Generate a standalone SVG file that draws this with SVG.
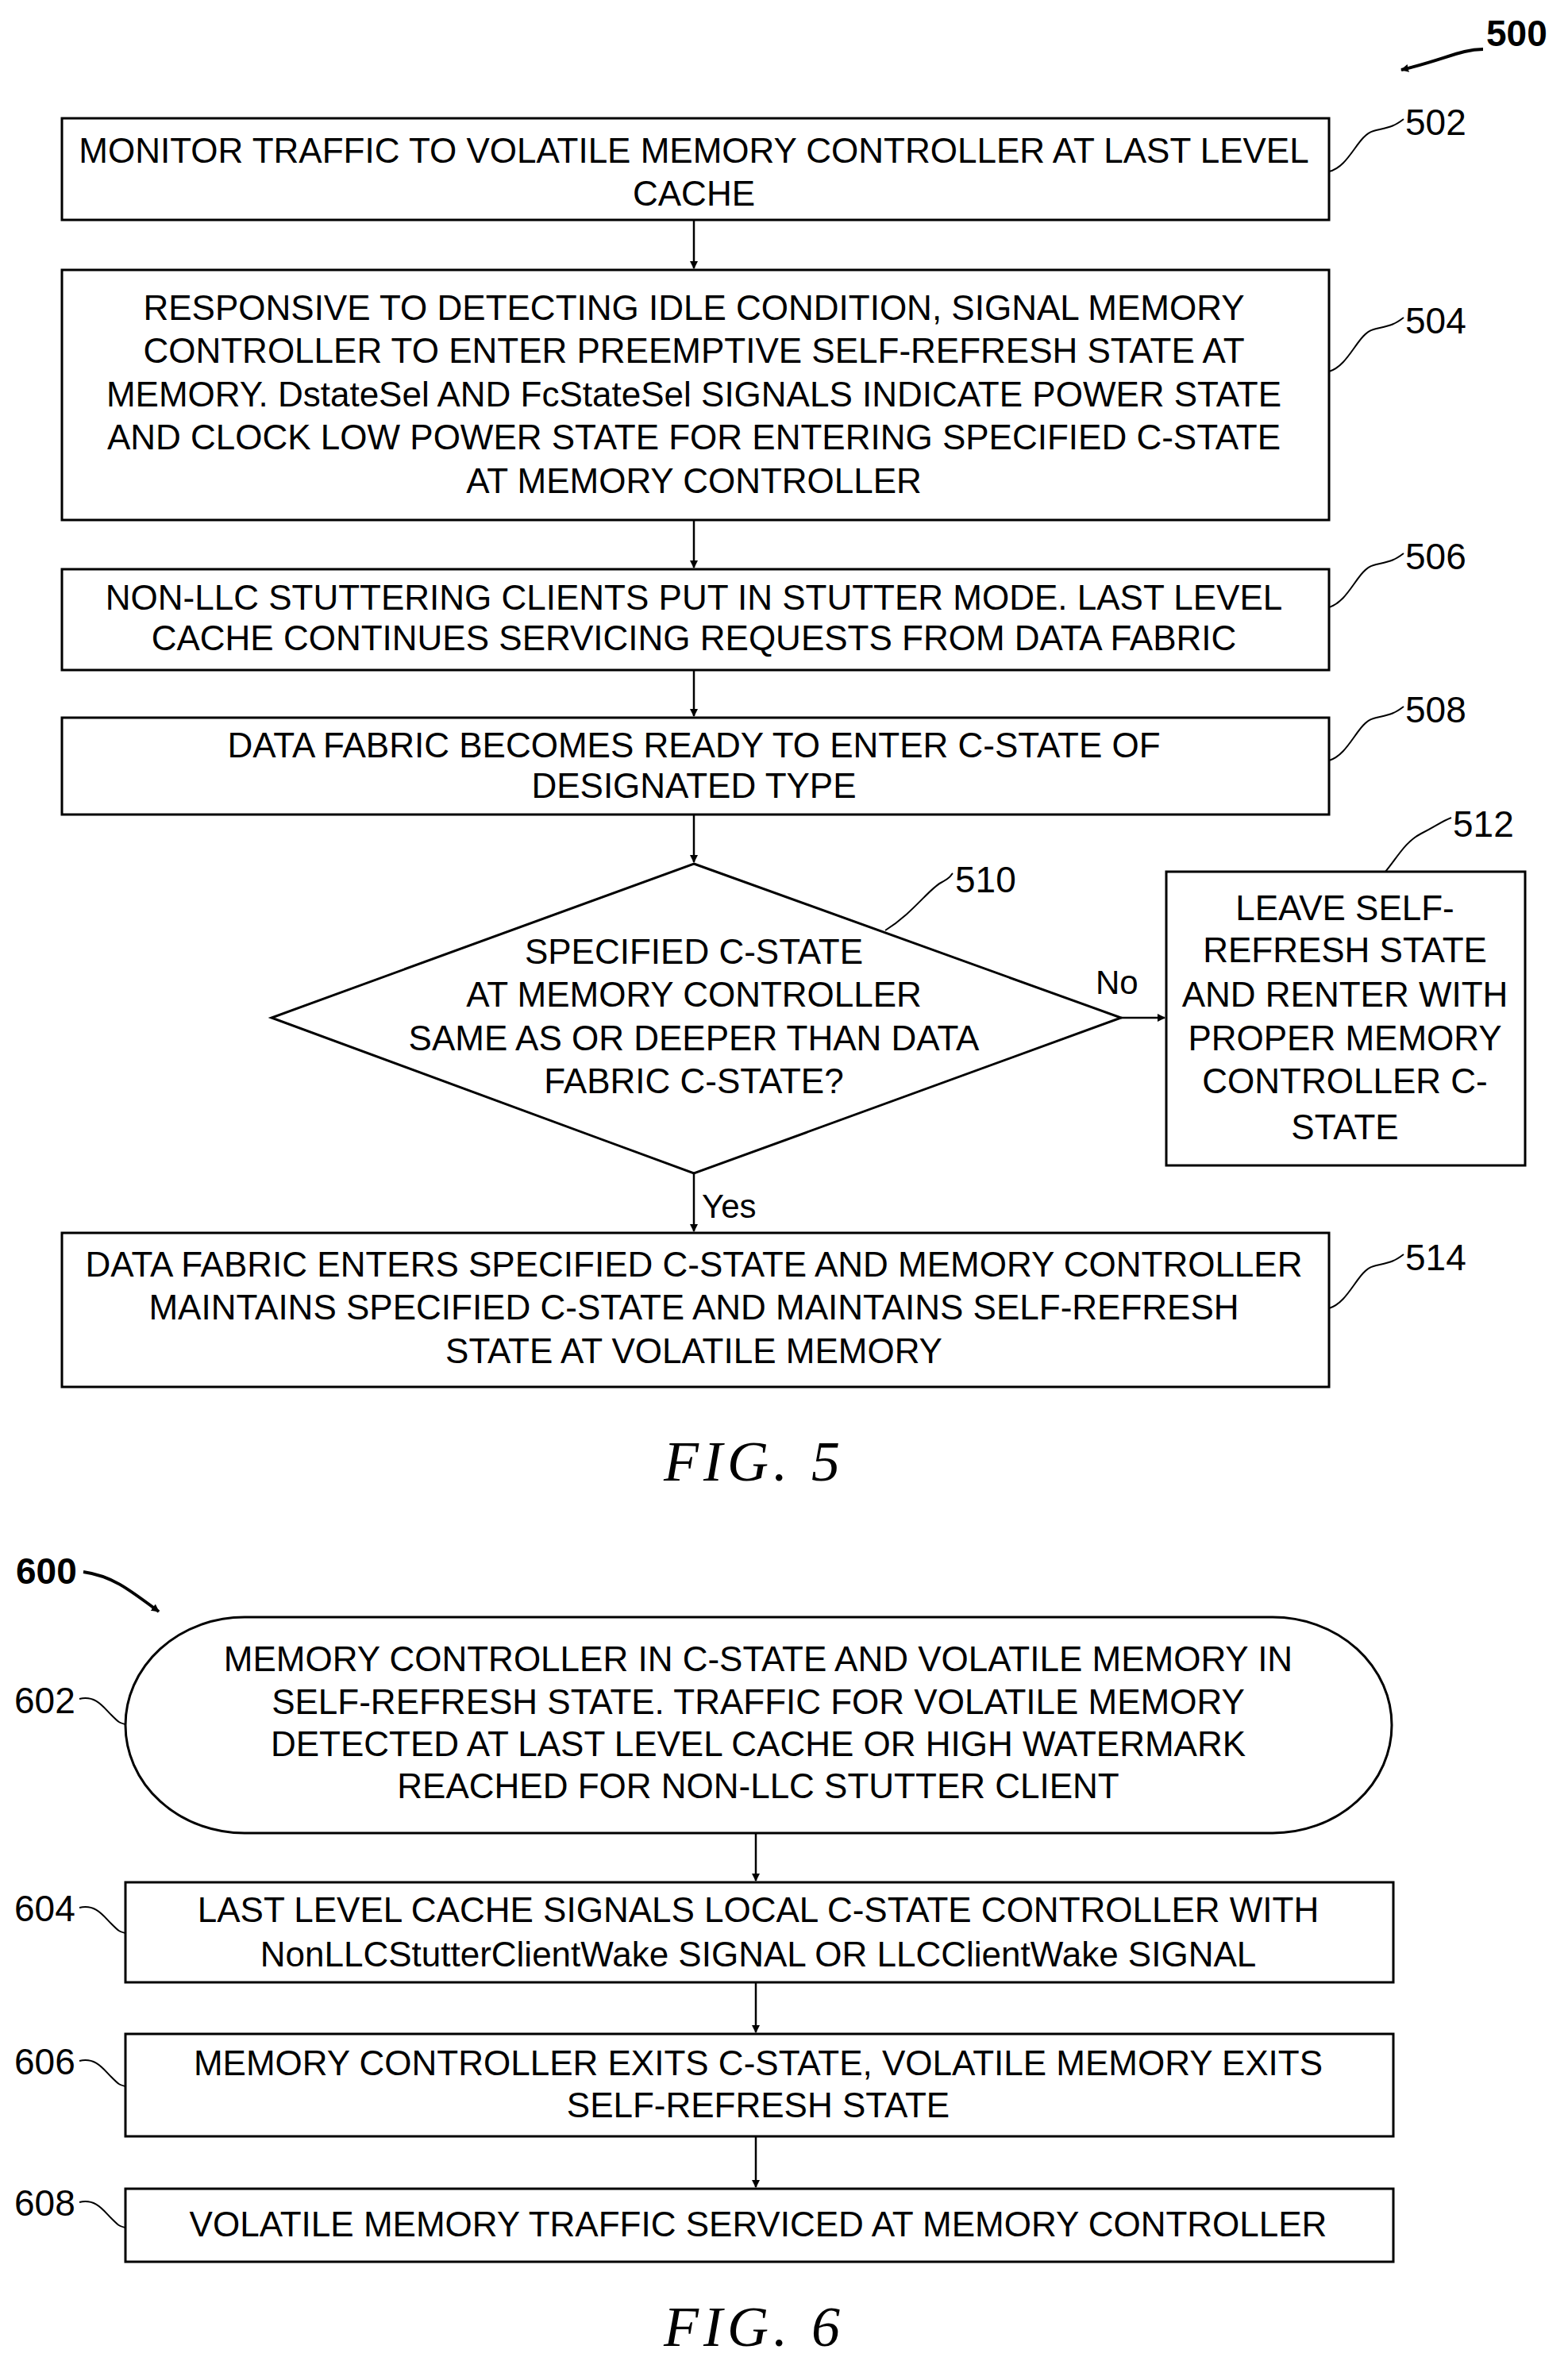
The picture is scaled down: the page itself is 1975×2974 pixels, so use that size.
<svg xmlns="http://www.w3.org/2000/svg" width="1975" height="2974" viewBox="0 0 1975 2974">
<style>
.b{fill:#fff;stroke:#000;stroke-width:3}
.t{font-family:"Liberation Sans",Arial,sans-serif;font-size:44px;text-anchor:middle;fill:#000}
.l{font-family:"Liberation Sans",Arial,sans-serif;font-size:46px;fill:#000}
.ld{fill:none;stroke:#000;stroke-width:2}
.c{fill:none;stroke:#000;stroke-width:2.5;marker-end:url(#a)}
.f{font-family:"Liberation Serif","Times New Roman",serif;font-style:italic;font-size:72px;text-anchor:middle;letter-spacing:6px}
</style>
<defs><marker id="a" markerWidth="10" markerHeight="10" refX="9" refY="5" orient="auto" markerUnits="userSpaceOnUse" viewBox="0 0 10 10"><path d="M0,0 L10,5 L0,10 z" fill="#000"/></marker></defs>
<rect width="1975" height="2974" fill="#fff"/>
<g id="connectors">
<path class="c" d="M874 277 V338"/>
<path class="c" d="M874 655 V715"/>
<path class="c" d="M874 844 V902"/>
<path class="c" d="M874 1026 V1086"/>
<path class="c" d="M1412 1282 H1467"/>
<path class="c" d="M874 1478 V1551"/>
<path class="c" d="M952 2309 V2369"/>
<path class="c" d="M952 2497 V2560"/>
<path class="c" d="M952 2691 V2755"/>
<text class="l" x="1380" y="1252" style="font-size:42px">No</text>
<text class="l" x="884" y="1534" style="font-size:42px">Yes</text>
</g>
<g id="n500"><text class="l" x="1872" y="58" font-weight="bold">500</text><path class="c" d="M1868 62 C1840 62 1820 75 1765 88" style="stroke-width:4"/></g>
<g id="n502"><rect class="b" x="78" y="149" width="1596" height="128"/>
<text class="t" x="874" y="205">MONITOR TRAFFIC TO VOLATILE MEMORY CONTROLLER AT LAST LEVEL</text>
<text class="t" x="874" y="259">CACHE</text>
<path class="ld" d="M1674 216 C1700 210 1710 170 1730 165 S1755 160 1768 150"/><text class="l" x="1770" y="170">502</text></g>
<g id="n504"><rect class="b" x="78" y="340" width="1596" height="315"/>
<text class="t" x="874" y="403">RESPONSIVE TO DETECTING IDLE CONDITION, SIGNAL MEMORY</text>
<text class="t" x="874" y="457">CONTROLLER TO ENTER PREEMPTIVE SELF-REFRESH STATE AT</text>
<text class="t" x="874" y="512">MEMORY. DstateSel AND FcStateSel SIGNALS INDICATE POWER STATE</text>
<text class="t" x="874" y="566">AND CLOCK LOW POWER STATE FOR ENTERING SPECIFIED C-STATE</text>
<text class="t" x="874" y="621">AT MEMORY CONTROLLER</text>
<path class="ld" d="M1674 468 C1700 460 1710 420 1730 415 S1755 410 1768 400"/><text class="l" x="1770" y="420">504</text></g>
<g id="n506"><rect class="b" x="78" y="717" width="1596" height="127"/>
<text class="t" x="874" y="768">NON-LLC STUTTERING CLIENTS PUT IN STUTTER MODE.  LAST LEVEL</text>
<text class="t" x="874" y="819">CACHE CONTINUES SERVICING REQUESTS FROM DATA FABRIC</text>
<path class="ld" d="M1674 765 C1700 757 1710 717 1730 712 S1755 707 1768 697"/><text class="l" x="1770" y="717">506</text></g>
<g id="n508"><rect class="b" x="78" y="904" width="1596" height="122"/>
<text class="t" x="874" y="954">DATA FABRIC BECOMES READY TO ENTER C-STATE OF</text>
<text class="t" x="874" y="1005">DESIGNATED TYPE</text>
<path class="ld" d="M1674 958 C1700 950 1710 910 1730 905 S1755 900 1768 890"/><text class="l" x="1770" y="910">508</text></g>
<g id="n510"><polygon class="b" points="874,1088 1412,1282 874,1478 342,1282"/>
<text class="t" x="874" y="1214">SPECIFIED C-STATE</text>
<text class="t" x="874" y="1268">AT MEMORY CONTROLLER</text>
<text class="t" x="874" y="1323">SAME AS OR DEEPER THAN DATA</text>
<text class="t" x="874" y="1377">FABRIC C-STATE?</text>
<path class="ld" d="M1115 1172 C1150 1150 1170 1120 1185 1112 S1195 1105 1200 1100"/><text class="l" x="1203" y="1124">510</text></g>
<g id="n512"><rect class="b" x="1469" y="1098" width="452" height="370"/>
<text class="t" x="1694" y="1159">LEAVE SELF-</text>
<text class="t" x="1694" y="1212">REFRESH STATE</text>
<text class="t" x="1694" y="1268">AND RENTER WITH</text>
<text class="t" x="1694" y="1323">PROPER MEMORY</text>
<text class="t" x="1694" y="1377">CONTROLLER C-</text>
<text class="t" x="1694" y="1435">STATE</text>
<path class="ld" d="M1745 1098 C1760 1080 1770 1060 1790 1050 S1815 1035 1828 1030"/><text class="l" x="1830" y="1054">512</text></g>
<g id="n514"><rect class="b" x="78" y="1553" width="1596" height="194"/>
<text class="t" x="874" y="1608">DATA FABRIC ENTERS SPECIFIED C-STATE AND MEMORY CONTROLLER</text>
<text class="t" x="874" y="1662">MAINTAINS SPECIFIED C-STATE AND MAINTAINS SELF-REFRESH</text>
<text class="t" x="874" y="1717">STATE AT VOLATILE MEMORY</text>
<path class="ld" d="M1674 1648 C1700 1640 1710 1600 1730 1595 S1755 1590 1768 1580"/><text class="l" x="1770" y="1600">514</text></g>
<text class="f" x="950" y="1865">FIG. 5</text>
<g id="n600"><text class="l" x="20" y="1995" font-weight="bold">600</text><path class="c" d="M105 1980 C140 1985 160 2000 200 2030" style="stroke-width:4"/></g>
<g id="n602"><rect class="b" x="158" y="2037" width="1595" height="272" rx="150" ry="136"/>
<text class="t" x="955" y="2105">MEMORY CONTROLLER IN C-STATE AND VOLATILE MEMORY IN</text>
<text class="t" x="955" y="2159">SELF-REFRESH STATE.  TRAFFIC FOR VOLATILE MEMORY</text>
<text class="t" x="955" y="2212">DETECTED AT LAST LEVEL CACHE OR HIGH WATERMARK</text>
<text class="t" x="955" y="2265">REACHED FOR NON-LLC STUTTER CLIENT</text>
<path class="ld" d="M100 2140 C120 2135 130 2150 140 2160 S150 2170 158 2172"/><text class="l" x="18" y="2158">602</text></g>
<g id="n604"><rect class="b" x="158" y="2371" width="1597" height="126"/>
<text class="t" x="955" y="2421">LAST LEVEL CACHE SIGNALS LOCAL C-STATE CONTROLLER WITH</text>
<text class="t" x="955" y="2477">NonLLCStutterClientWake SIGNAL OR LLCClientWake SIGNAL</text>
<path class="ld" d="M100 2403 C120 2398 130 2413 140 2423 S150 2433 158 2435"/><text class="l" x="18" y="2420">604</text></g>
<g id="n606"><rect class="b" x="158" y="2562" width="1597" height="129"/>
<text class="t" x="955" y="2614">MEMORY CONTROLLER EXITS C-STATE, VOLATILE MEMORY EXITS</text>
<text class="t" x="955" y="2667">SELF-REFRESH STATE</text>
<path class="ld" d="M100 2596 C120 2591 130 2606 140 2616 S150 2626 158 2628"/><text class="l" x="18" y="2613">606</text></g>
<g id="n608"><rect class="b" x="158" y="2757" width="1597" height="92"/>
<text class="t" x="955" y="2817">VOLATILE MEMORY TRAFFIC SERVICED AT MEMORY CONTROLLER</text>
<path class="ld" d="M100 2774 C120 2769 130 2784 140 2794 S150 2804 158 2806"/><text class="l" x="18" y="2791">608</text></g>
<text class="f" x="950" y="2955">FIG. 6</text>
</svg>
